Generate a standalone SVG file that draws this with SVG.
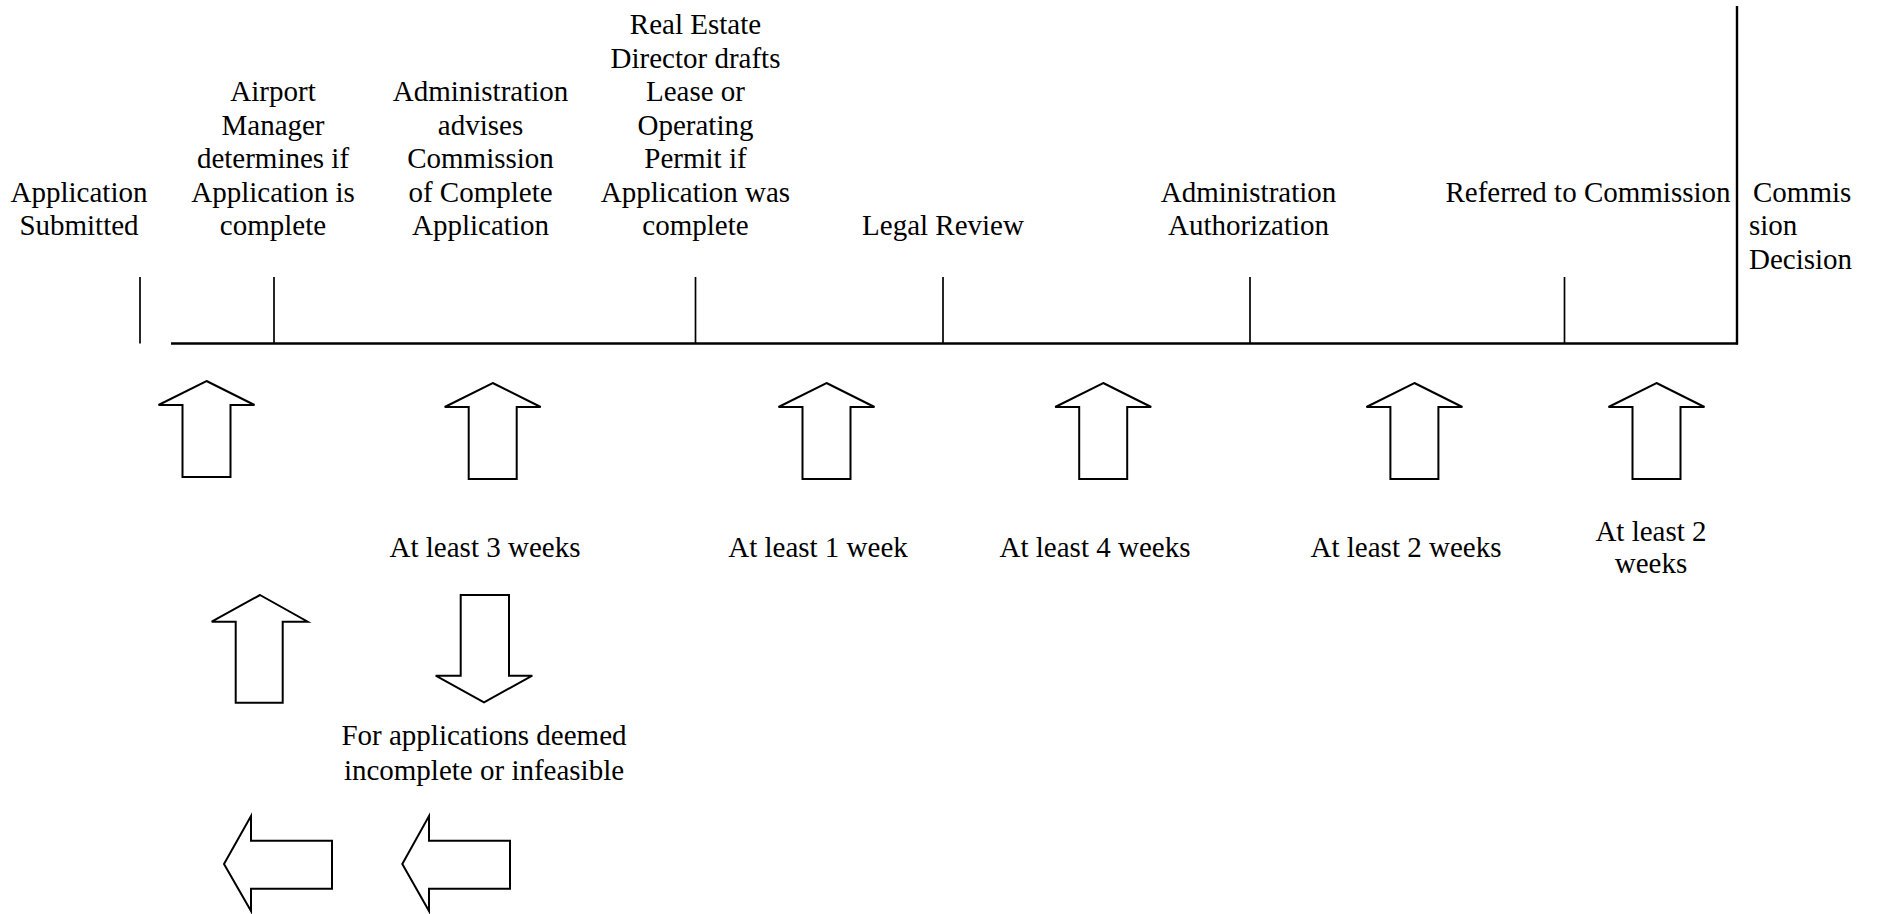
<svg xmlns="http://www.w3.org/2000/svg" xmlns:xlink="http://www.w3.org/1999/xlink" width="1877" height="914" viewBox="0 0 1877 914">
<style>
  text { font-family: "Liberation Serif", "Times New Roman", serif; font-size: 29px; fill: #000; }
  .c { text-anchor: middle; }
  .ar { fill: #fff; stroke: #000; stroke-width: 2; stroke-linejoin: miter; }
  .tick { stroke: #000; stroke-width: 1.7; }
  .main { stroke: #000; stroke-width: 2.4; fill: none; }
</style>
<defs>
  <path id="up" d="M0,0 L48,24 L24,24 L24,96 L-24,96 L-24,24 L-48,24 Z"/>
</defs>
<rect width="1877" height="914" fill="#fff"/>

<g id="connectors">
  <line class="main" x1="171" y1="343.5" x2="1738" y2="343.5"/>
  <line class="main" x1="1737" y1="6" x2="1737" y2="344.5"/>
  <line class="tick" x1="140" y1="277" x2="140" y2="343.5"/>
  <line class="tick" x1="274" y1="277" x2="274" y2="343.5"/>
  <line class="tick" x1="695.5" y1="277" x2="695.5" y2="343.5"/>
  <line class="tick" x1="943" y1="277" x2="943" y2="343.5"/>
  <line class="tick" x1="1250" y1="277" x2="1250" y2="343.5"/>
  <line class="tick" x1="1564.5" y1="277" x2="1564.5" y2="343.5"/>
</g>

<g id="n-application-submitted">
  <text class="c" x="79" y="201.5">Application</text>
  <text class="c" x="79" y="235">Submitted</text>
</g>
<g id="n-airport-manager">
  <text class="c" x="273" y="101">Airport</text>
  <text class="c" x="273" y="134.5">Manager</text>
  <text class="c" x="273" y="168">determines if</text>
  <text class="c" x="273" y="201.5">Application is</text>
  <text class="c" x="273" y="235">complete</text>
</g>
<g id="n-administration-advises">
  <text class="c" x="480.5" y="101">Administration</text>
  <text class="c" x="480.5" y="134.5">advises</text>
  <text class="c" x="480.5" y="168">Commission</text>
  <text class="c" x="480.5" y="201.5">of Complete</text>
  <text class="c" x="480.5" y="235">Application</text>
</g>
<g id="n-real-estate">
  <text class="c" x="695.5" y="34">Real Estate</text>
  <text class="c" x="695.5" y="67.5">Director drafts</text>
  <text class="c" x="695.5" y="101">Lease or</text>
  <text class="c" x="695.5" y="134.5">Operating</text>
  <text class="c" x="695.5" y="168">Permit if</text>
  <text class="c" x="695.5" y="201.5">Application was</text>
  <text class="c" x="695.5" y="235">complete</text>
</g>
<g id="n-legal-review">
  <text class="c" x="943" y="235">Legal Review</text>
</g>
<g id="n-administration-authorization">
  <text class="c" x="1248.5" y="201.5">Administration</text>
  <text class="c" x="1248.5" y="235">Authorization</text>
</g>
<g id="n-referred">
  <text class="c" x="1588" y="201.5">Referred to Commission</text>
</g>
<g id="n-commission-decision">
  <text x="1753" y="201.5">Commis</text>
  <text x="1749" y="235">sion</text>
  <text x="1749" y="268.5">Decision</text>
</g>

<g id="arrows-row1">
  <use xlink:href="#up" href="#up" class="ar" x="206.5" y="381"/>
  <use xlink:href="#up" href="#up" class="ar" x="492.7" y="383"/>
  <use xlink:href="#up" href="#up" class="ar" x="826.5" y="383"/>
  <use xlink:href="#up" href="#up" class="ar" x="1103.2" y="383"/>
  <use xlink:href="#up" href="#up" class="ar" x="1414.4" y="383"/>
  <use xlink:href="#up" href="#up" class="ar" x="1656.5" y="383"/>
</g>

<g id="n-durations">
  <text class="c" x="485" y="557">At least 3 weeks</text>
  <text class="c" x="818" y="557">At least 1 week</text>
  <text class="c" x="1095" y="557">At least 4 weeks</text>
  <text class="c" x="1406" y="557">At least 2 weeks</text>
  <text class="c" x="1651" y="541">At least 2</text>
  <text class="c" x="1651" y="573">weeks</text>
</g>

<g id="arrows-row2">
  <path class="ar" d="M260,595 L307.7,621.7 L282.7,621.7 L282.7,702.7 L235.7,702.7 L235.7,621.7 L211.7,621.7 Z"/>
  <path class="ar" d="M460.7,595 L509,595 L509,675.7 L532.3,675.7 L484,702.3 L435.7,675.7 L460.7,675.7 Z"/>
</g>

<g id="n-incomplete">
  <text class="c" x="484" y="745">For applications deemed</text>
  <text class="c" x="484" y="780">incomplete or infeasible</text>
</g>

<g id="arrows-row3">
  <path class="ar" d="M224,864 L251,816 L251,840.7 L332,840.7 L332,888.7 L251,888.7 L251,911 Z"/>
  <path class="ar" d="M402.3,864 L429,816 L429,840.7 L510,840.7 L510,888.7 L429,888.7 L429,911 Z"/>
</g>
</svg>
